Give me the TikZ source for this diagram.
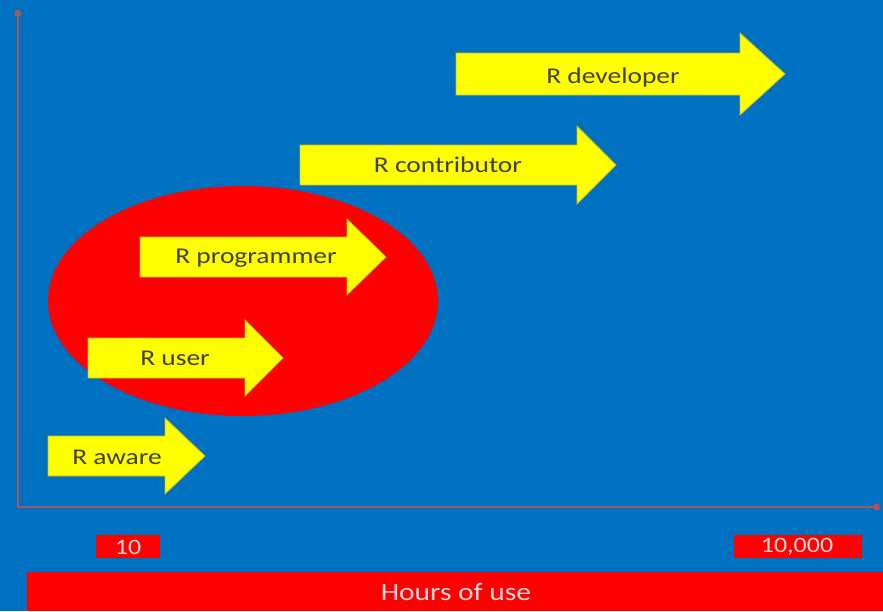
\documentclass[tikz,border=0pt]{standalone}
\usepackage{fontspec}
\setmainfont{Carlito}
\usetikzlibrary{arrows.meta}
\definecolor{bgblue}{RGB}{0,112,192}
\definecolor{axisred}{RGB}{168,88,88}
\definecolor{yel}{RGB}{255,255,0}
\definecolor{yeledge}{RGB}{200,190,40}
\definecolor{txtgray}{RGB}{64,64,48}
\newcommand{\yarrowdraw}[7]{%
  \draw[arrowbox] (#1,#4-#5) -- (#2,#4-#5) -- (#2,#4-#6) -- (#3,#4) -- (#2,#4+#6) -- (#2,#4+#5) -- (#1,#4+#5) -- cycle;}
\begin{document}
\begin{tikzpicture}[x=1pt,y=-1pt,
  arrowbox/.style={fill=yel,draw=yeledge,line width=0.8pt,line join=miter},
  arrowlabel/.style={font=\fontsize{22.5}{24}\selectfont,text=txtgray,xscale=1.22,inner sep=0pt},
  redlabel/.style={fill=red,text=white!85!red,font=\fontsize{22}{24}\selectfont,inner sep=0pt,xscale=1.18},
  axisline/.style={draw=axisred,line width=2.5pt,-{Circle[length=7pt]}}]
\fill[bgblue] (0,0) rectangle (883,611);
\useasboundingbox (0,0) rectangle (883,611);
% axes
\coordinate (origin) at (18,507);
\coordinate (ytop) at (18,10);
\coordinate (xend) at (880,507);
\draw[axisline] (origin) -- (ytop);
\draw[axisline] (origin) -- (xend);
% ellipse
\fill[red] (243,301) ellipse [x radius=195, y radius=115];
% arrows
\yarrowdraw{48}{165}{205}{456}{20}{38}{}
\node[arrowlabel] (aware) at (117,457) {R aware};
\yarrowdraw{88}{245}{283}{358}{20}{38}{}
\node[arrowlabel] (user) at (175,358) {R user};
\yarrowdraw{140}{347}{386}{257}{20}{38}{}
\node[arrowlabel] (programmer) at (256,258) {R programmer};
\yarrowdraw{300}{577}{616}{165}{20}{39}{}
\node[arrowlabel] (contributor) at (448,165) {R contributor};
\yarrowdraw{456}{740}{785}{74}{21}{41}{}
\node[arrowlabel] (developer) at (613,77) {R developer};
% x labels
\fill[red] (96,535) rectangle (160,558);
\node[redlabel,fill=none] (ten) at (128,547) {10};
\fill[red] (734,535) rectangle (862,558);
\node[redlabel,fill=none] (tenk) at (797,547) {10,000};
\fill[red] (27,572) rectangle (883,611);
\node[redlabel,fill=none,font=\fontsize{25}{27}\selectfont] (hours) at (456,592) {Hours of use};
\end{tikzpicture}
\end{document}
